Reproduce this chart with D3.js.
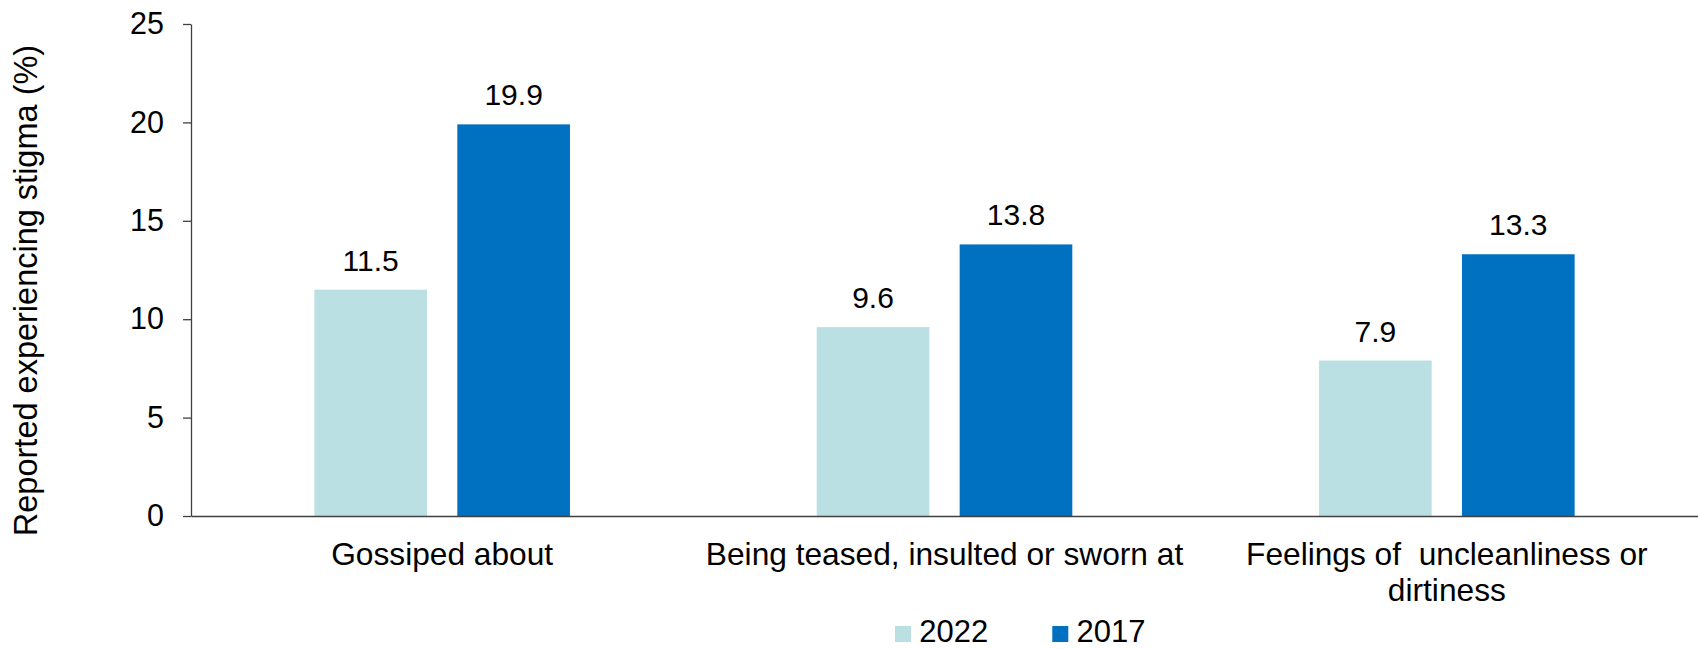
<!DOCTYPE html>
<html>
<head>
<meta charset="utf-8">
<script src="https://cdn.jsdelivr.net/npm/d3@7"></script>
<style>
  html, body { margin: 0; padding: 0; background: #ffffff; }
  svg { display: block; font-family: "Liberation Sans", Arial, sans-serif; }
  text { white-space: pre; }
</style>
</head>
<body>
<svg id="chart" width="1698" height="649"></svg>
<script>
// Stigma experienced, by survey year
const categories = [
  ["Gossiped about"],
  ["Being teased, insulted or sworn at"],
  ["Feelings of  uncleanliness or", "dirtiness"]
];
const seriesNames = ["2022", "2017"];
const values2022 = [11.5, 9.6, 7.9];
const values2017 = [19.9, 13.8, 13.3];
const yTicks = [0, 5, 10, 15, 20, 25];
const yTitle = "Reported experiencing stigma (%)";

const colors = { "2022": "#BBE0E3", "2017": "#0070C0" };
const seriesValues = { "2022": values2022, "2017": values2017 };

const svg = d3.select("#chart");
const W = 1698, H = 649;
const margin = { left: 191, right: 0, top: 24, bottom: 133 };
const plotBottom = H - margin.bottom;

const catKeys = categories.map((c, i) => i);
const x0 = d3.scaleBand().domain(catKeys).range([margin.left, W - margin.right]).padding(0);
const x1 = d3.scaleBand().domain(seriesNames).range([0, x0.bandwidth()])
  .paddingInner(0.212).paddingOuter(0.863);
const y = d3.scaleLinear().domain([0, 25]).range([plotBottom, margin.top]);

const fs = { value: 30, tick: 30.5, category: 31.7, legend: 31, title: 32.5 };

// bars
const groups = svg.append("g").selectAll("g")
  .data(catKeys).join("g")
  .attr("transform", d => `translate(${x0(d)},0)`);

groups.selectAll("rect")
  .data(i => seriesNames.map(s => ({ s, v: seriesValues[s][i] })))
  .join("rect")
  .attr("x", d => x1(d.s))
  .attr("width", x1.bandwidth())
  .attr("y", d => y(d.v))
  .attr("height", d => y(0) - y(d.v))
  .attr("fill", d => colors[d.s]);

// value labels
groups.selectAll("text.val")
  .data(i => seriesNames.map(s => ({ s, v: seriesValues[s][i] })))
  .join("text")
  .attr("class", "val")
  .attr("x", d => x1(d.s) + x1.bandwidth() / 2)
  .attr("y", d => y(d.v) - 19)
  .attr("text-anchor", "middle")
  .attr("font-size", fs.value)
  .attr("fill", "#000")
  .text(d => d.v.toFixed(1));

// y axis
const yAxis = svg.append("g")
  .attr("transform", `translate(${margin.left},0)`)
  .call(d3.axisLeft(y).tickValues(yTicks).tickSize(8).tickPadding(19).tickSizeOuter(0));
yAxis.select(".domain").attr("stroke", "#404040").attr("stroke-width", 1.3);
yAxis.selectAll(".tick line").attr("stroke", "#404040").attr("stroke-width", 1.3);
yAxis.selectAll(".tick text")
  .attr("font-size", fs.tick)
  .attr("font-family", "Liberation Sans, Arial, sans-serif")
  .attr("fill", "#000");

// x axis baseline
const xAxis = svg.append("g")
  .attr("transform", `translate(0,${plotBottom})`)
  .call(d3.axisBottom(x0).tickSize(0).tickFormat(""));
xAxis.select(".domain").attr("stroke", "#404040").attr("stroke-width", 1.3);

// category labels
const catLabels = svg.append("g").selectAll("text")
  .data(catKeys).join("text")
  .attr("text-anchor", "middle")
  .attr("font-size", fs.category)
  .attr("fill", "#000")
  .attr("transform", d => `translate(${x0(d) + x0.bandwidth() / 2},${plotBottom + 48.5})`);
catLabels.selectAll("tspan")
  .data(d => categories[d])
  .join("tspan")
  .attr("x", 0)
  .attr("dy", (d, i) => i === 0 ? 0 : 36.7)
  .text(d => d);

// y axis title
svg.append("text")
  .attr("transform", "translate(37,290.5) rotate(-90)")
  .attr("text-anchor", "middle")
  .attr("font-size", fs.title)
  .attr("fill", "#000")
  .text(yTitle);

// legend
const legendX = d3.scalePoint().domain(seriesNames).range([895, 1052.3]);
const legend = svg.append("g").selectAll("g")
  .data(seriesNames).join("g")
  .attr("transform", d => `translate(${legendX(d)},626)`);
legend.append("rect")
  .attr("width", 16).attr("height", 16)
  .attr("fill", d => colors[d]);
legend.append("text")
  .attr("x", 24.3)
  .attr("y", 16)
  .attr("font-size", fs.legend)
  .attr("fill", "#000")
  .text(d => d);
</script>
</body>
</html>
